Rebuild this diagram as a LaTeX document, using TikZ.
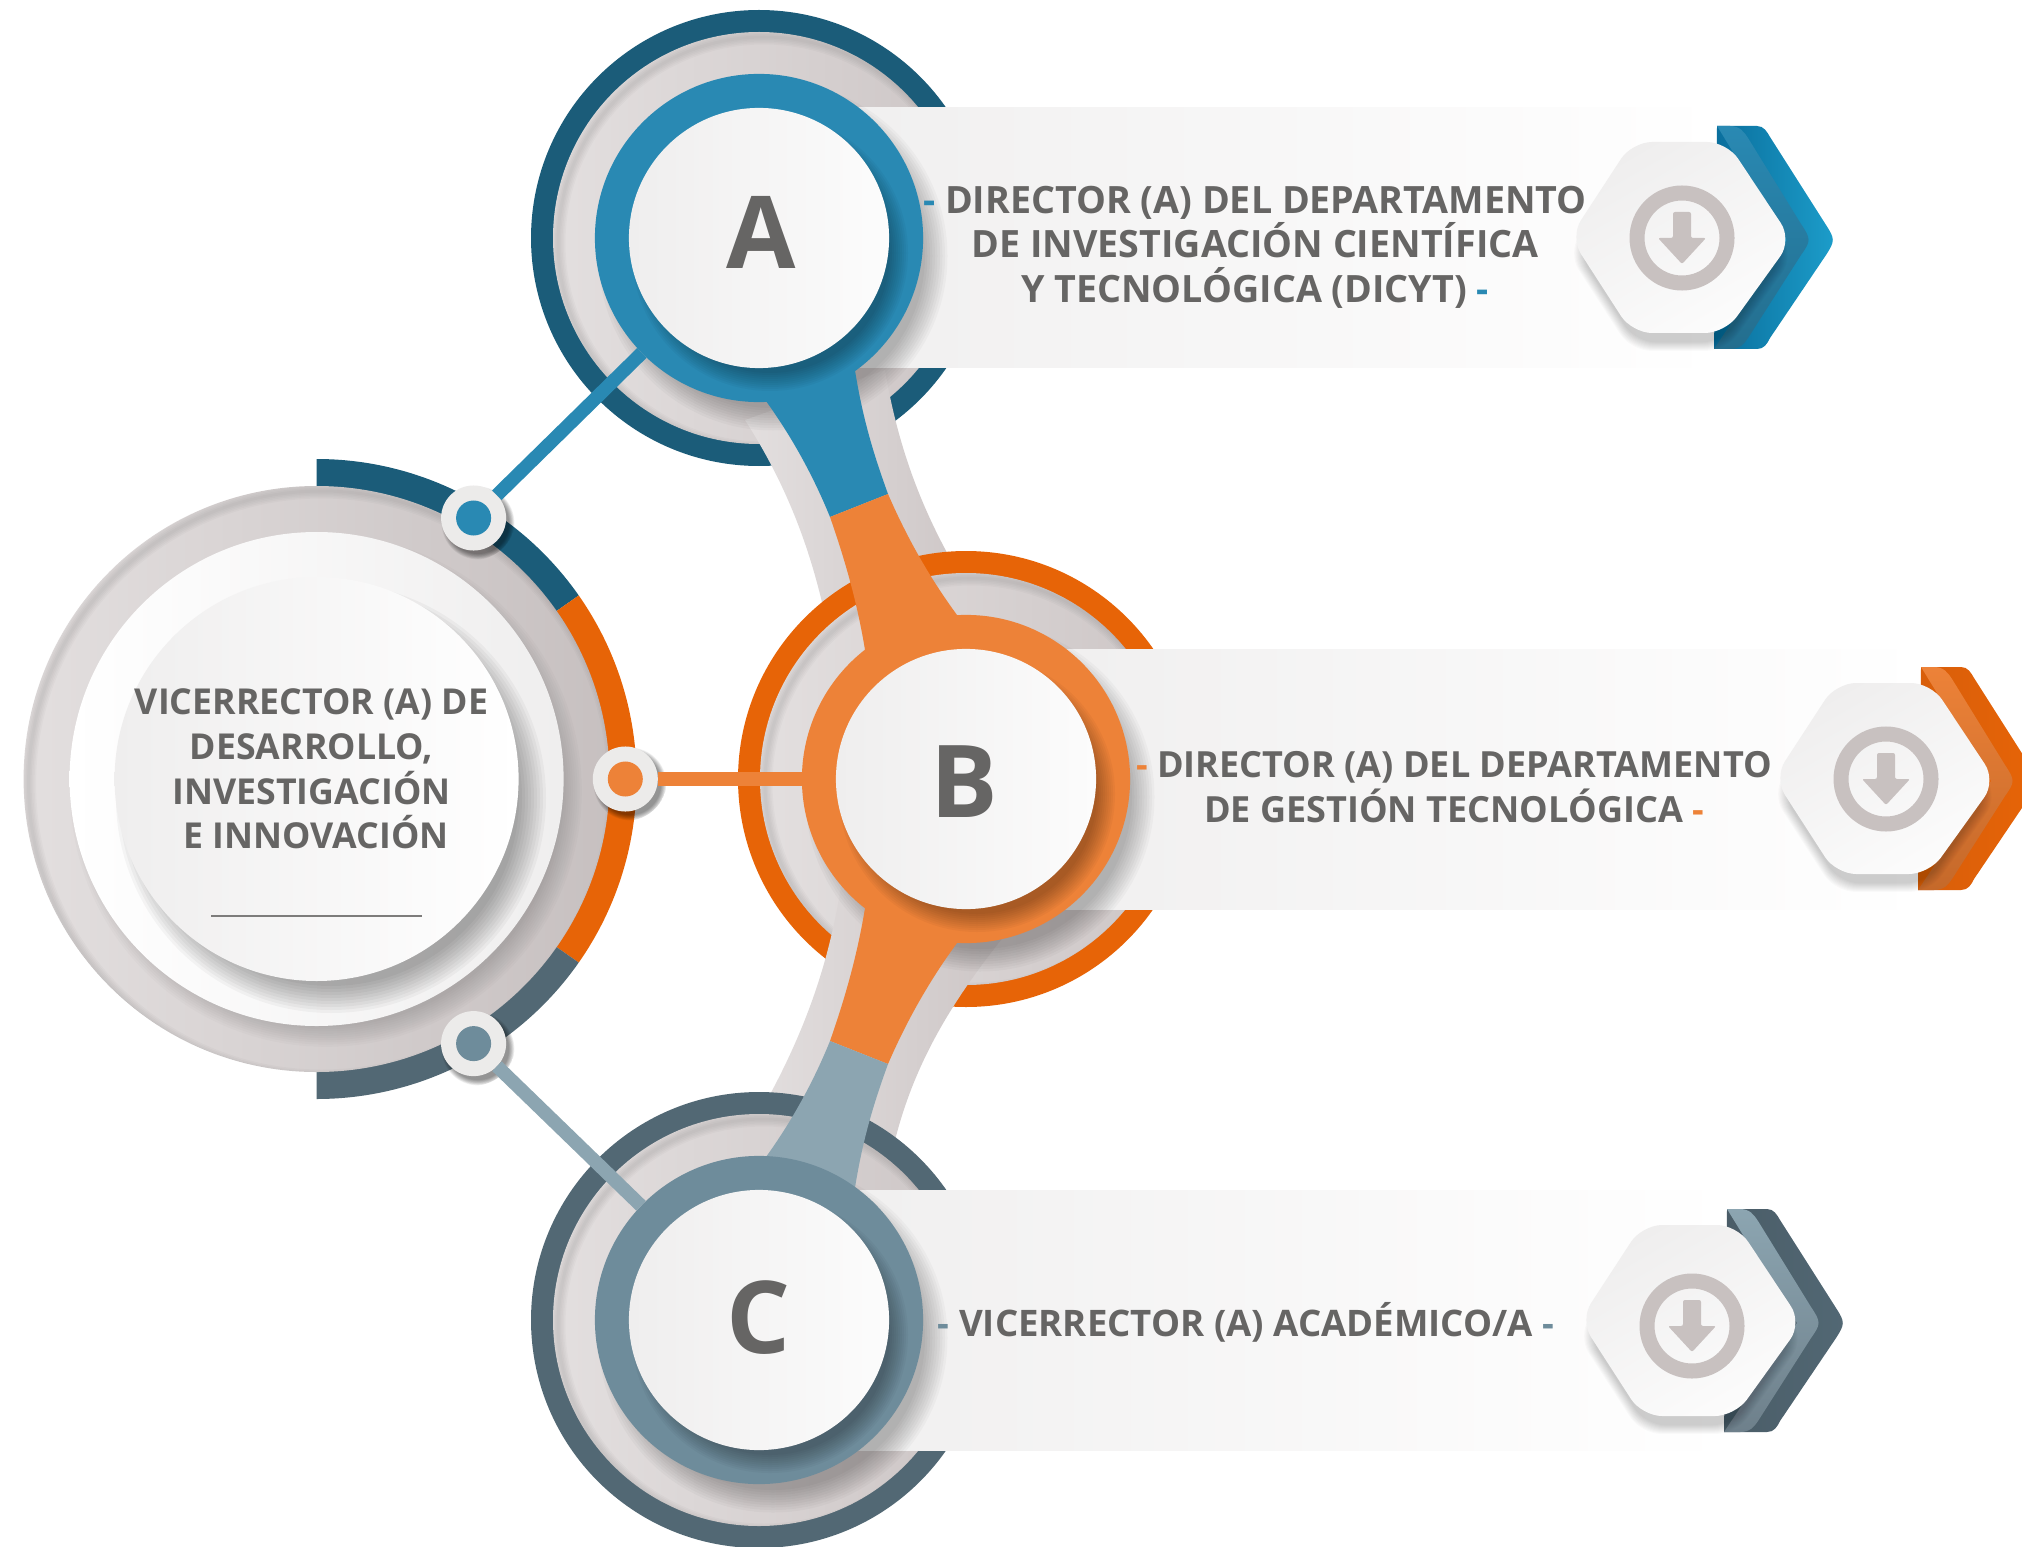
\documentclass[tikz,border=0pt]{standalone}
\usepackage{fontspec}
\setmainfont{Open Sans}

\definecolor{ringA}{HTML}{2989B3}
\definecolor{outerA}{HTML}{1B5C79}
\definecolor{ringB}{HTML}{ED8238}
\definecolor{outerB}{HTML}{E76407}
\definecolor{ringC}{HTML}{6E8C9B}
\definecolor{outerC}{HTML}{526874}
\definecolor{tailC}{HTML}{8CA5B1}
\definecolor{inkgrey}{HTML}{666564}
\definecolor{discL}{HTML}{E3DFDF}
\definecolor{discR}{HTML}{CDC6C6}
\definecolor{faceL}{HTML}{EFEEEE}
\definecolor{faceR}{HTML}{FCFCFC}
\definecolor{iconc}{HTML}{C8C1C0}
\definecolor{dotc}{HTML}{ECEBEA}

\newcommand{\softshadow}[6]{
  \begin{scope}
    \clip #1 circle[radius=#2];
    \foreach \k in {0,...,9}
      \fill[black,opacity=#6] #3 circle[radius=#4+\k*#5];
  \end{scope}
}
\newcommand{\softrim}[2]{
  \begin{scope}
    \clip (#1) circle[radius=#2];
    \begin{scope}[shift={(#1)}]
      \foreach \k in {1,...,5}
        \draw[black,opacity=.02,line width=\k*.03cm] (5,5) circle[radius=#2];
    \end{scope}
  \end{scope}
}
\newcommand{\hexpath}{(-112,-1) -- (-50,-96) -- (45,-96) -- (110,2) -- (43,95) -- (-50,95) -- cycle}

\begin{document}
\begin{tikzpicture}[x=0.01cm,y=-0.01cm,
    halo/.style={circle,inner sep=0pt,minimum size=3.28cm},
    face/.style={circle,inner sep=0pt,minimum size=2.6cm,left color=faceL,right color=faceR},
    letter/.style={inner sep=0pt,text=inkgrey,font=\fontsize{28.6}{30}\selectfont\bfseries},
    caption/.style={inner sep=0pt,align=center,text=inkgrey},
    dot/.style={circle,inner sep=0pt,minimum size=.65cm,fill=dotc},
    pip/.style={circle,inner sep=0pt,minimum size=.35cm},
    link/.style={line width=.135cm,shorten <=-.2pt,shorten >=-.2pt}]
  \clip (0,0) rectangle (2022,1546);
  \fill[white] (0,0) rectangle (2022,1546);

  \fill[outerA] (316.6,779) -- +(-90:320) arc[start angle=-90,end angle=-35,radius=320] -- cycle;
  \fill[outerB] (316.6,779) -- +(-35:320) arc[start angle=-35,end angle=35,radius=320] -- cycle;
  \fill[outerC] (316.6,779) -- +(35:320) arc[start angle=35,end angle=90,radius=320] -- cycle;
  \shade[left color=discL,right color=discR!97!black] (316.6,779) circle[radius=293];
  \softrim{316.6,779}{293}
  \softshadow{(316.6,779)}{293}{(326,791)}{236}{2.2}{.016}
  \shade[left color=white,right color=faceL] (316.6,779) circle[radius=247];
  \softshadow{(316.6,779)}{247}{(331,798)}{188}{3}{.035}
  \shade[left color=faceL,right color=white] (316.6,779) circle[radius=202];
  \draw[line width=.02cm,draw=inkgrey!85] (211,916) -- (422,916);

  \fill[outerA] (759,238) circle[radius=228];
  \shade[left color=discL,right color=discR] (759,238) circle[radius=206];
  \softrim{759,238}{206}
  \shade[left color=faceL,right color=white] (759,108) rectangle (1720,368);
  \shade[left color=discL,right color=discR] (745,420) .. controls (790,490) and (815,560) .. (830,640) -- (975,600) .. controls (930,530) and (900,460) .. (885,370) -- cycle;

  \fill[outerB] (966,779) circle[radius=228];
  \shade[left color=discL,right color=discR] (966,779) circle[radius=206];
  \softrim{966,779}{206}
  \shade[left color=faceL,right color=white] (966,649) rectangle (1925,909);
  \shade[left color=discL,right color=discR] (842,880) .. controls (830,960) and (805,1040) .. (745,1138) -- (885,1188) .. controls (900,1098) and (930,1028) .. (1005,935) -- cycle;

  \fill[outerC] (759,1320) circle[radius=228];
  \shade[left color=discL,right color=discR] (759,1320) circle[radius=206];
  \softrim{759,1320}{206}
  \shade[left color=faceL,right color=white] (759,1190) rectangle (1730,1450);

  \softshadow{(759,238)}{206}{(773,256)}{152}{2.5}{.026}
  \softshadow{(966,779)}{206}{(980,797)}{152}{2.5}{.026}
  \softshadow{(759,1320)}{206}{(773,1338)}{152}{2.5}{.026}

  \fill[ringA] (750,380) .. controls (790,430) and (815,480) .. (830,517) -- (888,494) .. controls (872,450) and (860,410) .. (852,350) -- cycle;
  \fill[ringB] (830,517) .. controls (845,560) and (860,610) .. (868,670) -- (975,640) -- (957,615) .. controls (935,585) and (910,545) .. (888,494) -- cycle;
  \fill[ringB] (830,1041) .. controls (845,998) and (860,948) .. (868,888) -- (975,918) -- (957,943) .. controls (935,973) and (910,1013) .. (888,1064) -- cycle;
  \fill[tailC] (830,1041) .. controls (815,1078) and (790,1128) .. (750,1178) -- (852,1208) .. controls (860,1148) and (872,1108) .. (888,1064) -- cycle;

  \node[halo,fill=ringA] (haloA) at (759,238) {};
  \node[halo,fill=ringB] (haloB) at (966,779) {};
  \node[halo,fill=ringC] (haloC) at (759,1320) {};
  \softshadow{(759,238)}{164}{(770,253)}{120}{2}{.03}
  \softshadow{(966,779)}{164}{(977,794)}{120}{2}{.03}
  \softshadow{(759,1320)}{164}{(770,1335)}{120}{2}{.03}
  \node[face] (faceA) at (759,238) {};
  \node[face] (faceB) at (966,779) {};
  \node[face] (faceC) at (759,1320) {};
  \node[letter] (letterA) at (761.5,232) {A};
  \node[letter] (letterB) at (964,782) {B};
  \node[letter] (letterC) at (759,1318) {C};

  \softshadow{(473.6,518)}{42}{(478,523)}{31}{.6}{.05}
  \softshadow{(625.3,779)}{42}{(630,784)}{31}{.6}{.05}
  \softshadow{(473.6,1043.6)}{42}{(478,1049)}{31}{.6}{.05}
  \node[dot] (dotA) at (473.6,518) {};
  \node[dot] (dotB) at (625.3,779) {};
  \node[dot] (dotC) at (473.6,1043.6) {};
  \node[pip,fill=ringA] (pipA) at (dotA) {};
  \node[pip,fill=ringB] (pipB) at (dotB) {};
  \node[pip,fill=ringC] (pipC) at (dotC) {};
  \draw[link,ringA] (dotA) -- (haloA);
  \draw[link,ringB] (dotB) -- (haloB);
  \draw[link,tailC] (dotC) -- (haloC);

  \foreach \bx/\by/\iy/\darkl/\darkr/\lightt/\lightb in {1682/238/0/0A6E9C/1C9DCA/2989B3/246E8E,1886/779/0/D85E0A/E76407/ED8238/C5692A,1692/1321/5/4A5C67/526874/8CA5B1/6E808B}{
    \begin{scope}[shift={(\bx,\by)}]
      \definecolor{cdl}{HTML}{\darkl}
      \definecolor{cdr}{HTML}{\darkr}
      \definecolor{clt}{HTML}{\lightt}
      \definecolor{clb}{HTML}{\lightb}
      \shade[left color=cdl,right color=cdr] (35,-112) -- (75,-112) .. controls (82,-112) and (85,-106) .. (88,-101) -- (144,-13) .. controls (153,1) and (153,3) .. (144,17) -- (88,100) .. controls (85,106) and (82,111) .. (75,111) -- (32,111) -- cycle;
      \shade[top color=clt,bottom color=clb] (35,-112) -- (48,-112) .. controls (58,-112) and (62,-106) .. (66,-100) -- (119,-14) .. controls (129,1) and (129,3) .. (119,17) -- (66,100) .. controls (62,106) and (58,111) .. (48,111) -- (32,111) -- (105,2) -- cycle;
      \foreach \k in {0,...,9}
        \fill[black,opacity=.02,rounded corners=.2cm,shift={(0,16)},scale=.93+.01*\k] \hexpath;
      \shade[top color=faceL,bottom color=faceR,shading angle=30,rounded corners=.2cm] \hexpath;
      \begin{scope}[shift={(0,\iy)}]
        \draw[iconc,line width=.15cm] (0,0) circle[radius=45];
        \fill[iconc,rounded corners=.02cm] (-9,-26) -- (9,-26) -- (9,0) -- (24,0) -- (0,26) -- (-24,0) -- (-9,0) -- cycle;
      \end{scope}
    \end{scope}
  }

  \node[caption,font=\fontsize{10.15}{12.7}\selectfont\bfseries] (boss) at (311.5,769) {VICERRECTOR (A) DE\\DESARROLLO,\\INVESTIGACIÓN\\\hspace*{.09cm}E INNOVACIÓN};
  \node[caption,font=\fontsize{10.7}{12.7}\selectfont\bfseries] (captionA) at (1255,247) {\textcolor{ringA}{-} DIRECTOR (A) DEL DEPARTAMENTO\\DE INVESTIGACIÓN CIENTÍFICA\\Y TECNOLÓGICA (DICYT) \textcolor{ringA}{-}};
  \node[caption,font=\fontsize{10.25}{12.7}\selectfont\bfseries] (captionB) at (1454,787) {\textcolor{ringB}{-} DIRECTOR (A) DEL DEPARTAMENTO\\DE GESTIÓN TECNOLÓGICA \textcolor{ringB}{-}};
  \node[caption,font=\fontsize{10.4}{12.7}\selectfont\bfseries] (captionC) at (1246,1322) {\textcolor{ringC}{-} VICERRECTOR (A) ACADÉMICO/A \textcolor{ringC}{-}};
\end{tikzpicture}
\end{document}
